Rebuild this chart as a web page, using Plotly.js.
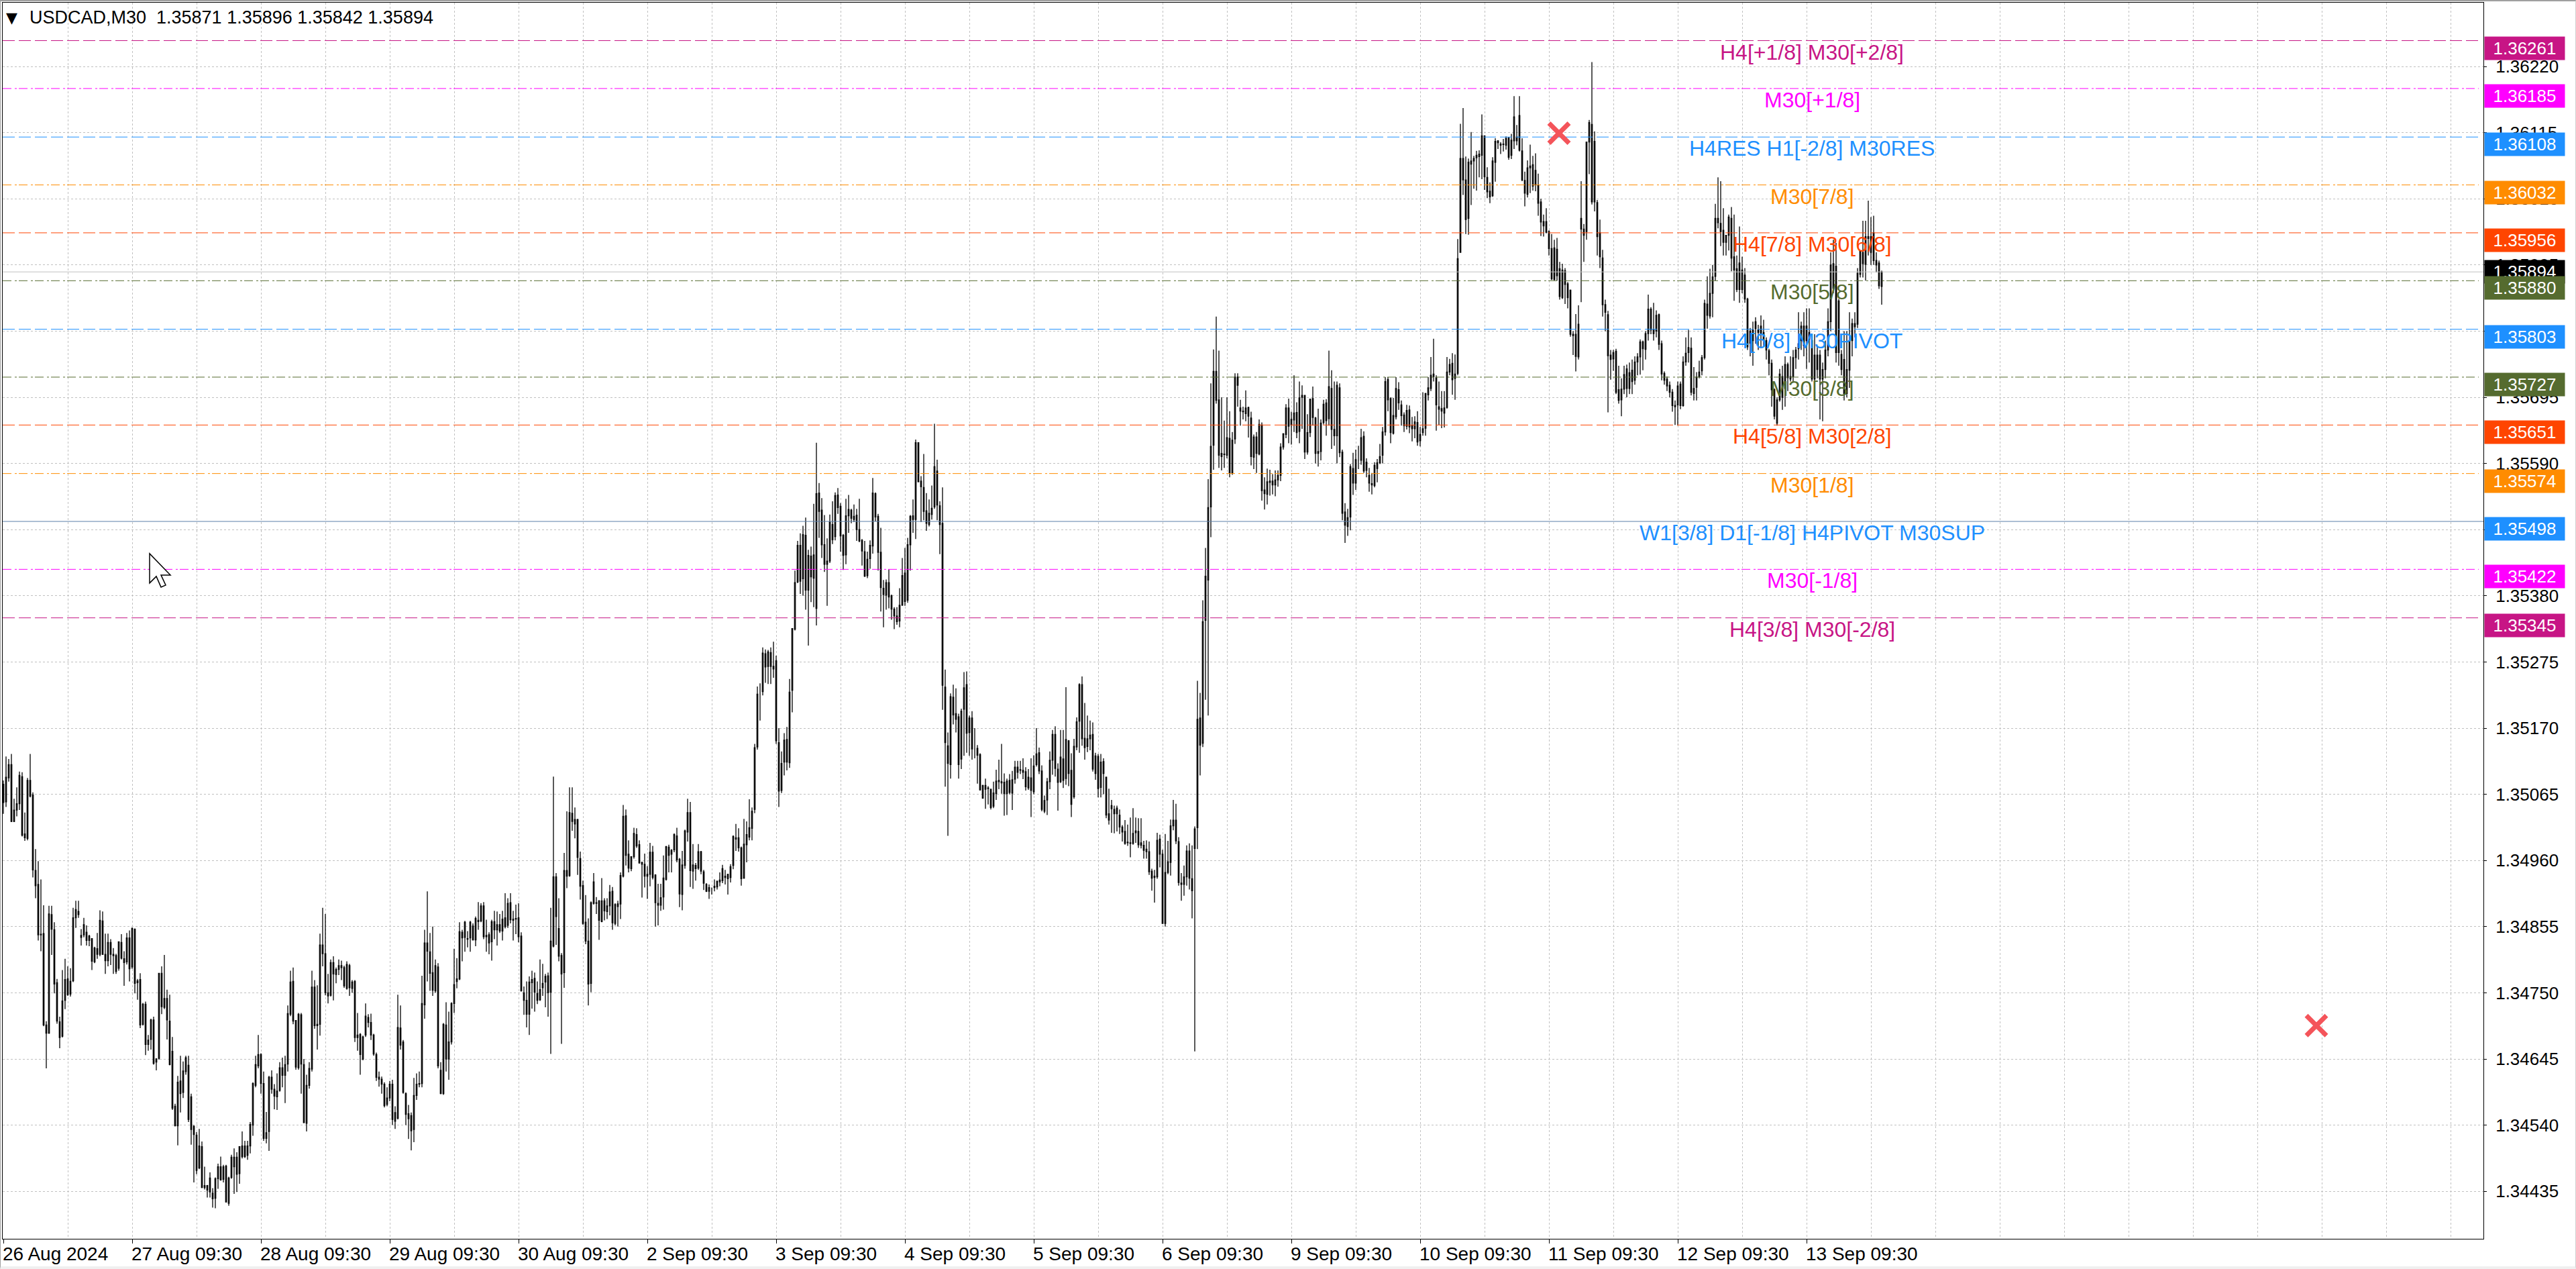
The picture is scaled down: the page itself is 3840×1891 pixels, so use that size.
<!DOCTYPE html>
<html>
<head>
<meta charset="utf-8">
<script src="https://cdn.plot.ly/plotly-3.0.1.min.js"></script>
<style>
html, body { margin: 0; padding: 0; background: #fff; }
#chart { width: 3840px; height: 1891px; }
#frame { position: fixed; left: 0; top: 0; right: 0; bottom: 0; pointer-events: none;
  border-top: 2px solid #a0a0a0; border-left: 1px solid #a0a0a0; border-right: 1px solid #d0d0d0; border-bottom: 4px solid #f0f0f0; }
</style>
</head>
<body>
<div id="chart"></div>
<div id="frame"></div>
<script>
// candles, in points above 1.34000
var basePrice = 1.34;
var opens = [
1081,1053,1091,1112,1022,1040,1050,1093,1002,995,1087,1064,944,922,843,844,699,686,874,850,766,704,681,738,772,748,769,869,879,838,842,846,833,836,799,820,811,864,811,801,830,811,809,789,830,804,799,837,791,851,
766,771,700,732,668,676,707,640,646,781,727,741,705,657,570,539,610,592,625,635,585,538,524,472,506,444,444,456,432,424,455,474,454,475,416,457,474,489,463,507,507,492,507,540,603,634,652,606,519,530,
616,597,585,595,631,619,637,716,768,706,631,715,636,543,603,629,759,698,700,826,812,750,746,798,779,787,793,790,757,793,757,768,679,684,645,683,711,703,683,652,616,613,605,573,583,605,560,551,694,672,
590,558,555,533,587,605,606,731,829,815,782,753,791,627,590,699,645,672,733,768,772,846,838,836,837,856,834,865,864,888,841,842,831,863,850,858,848,869,857,893,867,868,869,840,750,738,716,766,773,749,
739,758,767,777,751,824,934,852,809,782,944,936,1035,1018,1025,963,920,862,832,765,892,893,896,863,896,879,888,911,860,887,891,935,1031,970,947,966,1001,985,957,954,935,938,973,937,892,889,902,930,981,970,
977,999,962,906,952,1005,1036,943,952,948,974,942,922,911,916,917,918,926,928,933,938,933,952,996,996,980,932,985,997,1011,1041,1140,1224,1228,1288,1268,1290,1264,1277,1147,1071,1116,1152,1115,1230,1327,1402,1460,1407,1476,
1389,1443,1408,1360,1543,1516,1461,1430,1435,1493,1474,1540,1522,1476,1445,1507,1516,1501,1508,1485,1468,1450,1412,1439,1459,1542,1506,1449,1392,1381,1401,1380,1359,1348,1340,1365,1416,1373,1461,1507,1501,1623,1562,1552,1515,1493,1509,1521,1578,1523,
1495,1235,1142,1112,1219,1193,1188,1121,1200,1239,1163,1186,1137,1138,1128,1059,1079,1075,1073,1046,1066,1087,1085,1084,1066,1087,1067,1089,1108,1104,1103,1101,1075,1091,1069,1112,1131,1102,1038,1056,1085,1119,1160,1105,1085,1121,1090,1150,1103,1061,
1140,1181,1239,1154,1141,1153,1160,1098,1125,1076,1117,1092,1034,1047,1041,1043,1032,1013,1006,989,988,987,1004,1006,988,984,978,974,943,933,934,994,970,860,941,957,1015,1024,990,924,922,934,975,931,979,1012,1186,1146,1341,1405,
1521,1619,1736,1691,1601,1605,1603,1630,1575,1629,1727,1678,1673,1669,1679,1662,1600,1632,1605,1651,1548,1541,1562,1562,1556,1564,1571,1616,1636,1678,1651,1659,1671,1641,1695,1698,1608,1639,1693,1662,1606,1609,1655,1686,1661,1709,1644,1634,1710,1608,
1513,1490,1505,1582,1559,1595,1595,1633,1579,1559,1558,1555,1582,1591,1603,1640,1723,1693,1638,1664,1707,1683,1667,1649,1675,1650,1645,1655,1626,1639,1646,1699,1709,1732,1726,1680,1677,1670,1679,1735,1749,1725,1733,1925,2074,2040,1979,2070,2070,2075,
2077,2079,2110,2044,2022,2015,2068,2102,2097,2097,2095,2107,2079,2102,2108,2142,2086,2039,2017,2059,2030,2055,2031,2005,1974,1974,1958,1931,1932,1930,1899,1853,1896,1875,1865,1795,1795,1759,1979,1962,1958,2100,2128,2101,2004,1956,1916,1842,1826,1762,
1756,1768,1707,1691,1708,1740,1709,1738,1722,1751,1759,1783,1771,1796,1835,1802,1800,1826,1780,1733,1724,1714,1703,1682,1683,1716,1682,1751,1766,1773,1701,1711,1728,1737,1758,1843,1824,1860,1887,1972,1971,1960,1941,1952,1979,1918,1899,1908,1866,1889,
1851,1781,1785,1815,1802,1808,1785,1785,1769,1749,1707,1654,1691,1728,1709,1747,1728,1728,1758,1772,1785,1777,1808,1798,1785,1724,1762,1762,1724,1739,1770,1815,1868,1903,1848,1763,1755,1701,1738,1785,1812,1811,1890,1925,1906,1950,1925,1956,1912,1908,
1871];
var highs = [
1087,1125,1121,1129,1058,1076,1101,1100,1036,1091,1129,1068,978,959,930,889,705,888,888,862,772,712,786,804,792,789,885,896,896,851,869,857,842,836,823,845,881,879,844,844,835,821,812,831,843,816,845,849,854,852,
772,781,734,736,683,709,712,646,781,792,810,755,747,680,574,618,650,641,650,650,590,540,529,534,514,474,445,465,440,457,479,490,477,477,458,493,503,497,506,530,515,515,545,608,650,683,654,625,561,618,
627,605,622,640,647,650,730,785,790,706,718,718,645,620,640,785,770,762,844,885,875,780,803,808,790,803,801,793,800,796,770,770,718,686,682,733,716,717,685,655,625,617,608,600,610,612,570,747,730,675,
592,572,560,615,622,625,777,850,911,845,855,803,797,640,702,735,720,735,820,805,862,850,864,848,864,860,871,894,892,894,866,846,866,880,879,875,880,908,900,908,880,890,892,846,760,768,776,785,782,768,
803,796,780,782,885,1093,940,900,813,972,1038,1076,1076,1044,1026,974,928,905,868,895,940,902,897,932,900,900,921,918,892,896,941,1048,1041,992,967,1012,1011,992,957,971,951,988,983,938,923,923,968,983,985,978,
1003,1012,964,975,1009,1058,1053,986,956,986,975,945,924,922,917,930,928,941,953,945,939,954,1000,1018,1011,982,1026,1022,1057,1044,1145,1236,1241,1298,1295,1294,1298,1307,1285,1170,1133,1162,1172,1248,1328,1420,1467,1479,1491,1504,
1453,1458,1526,1623,1559,1535,1508,1471,1509,1530,1544,1551,1527,1478,1534,1540,1518,1525,1518,1534,1470,1467,1450,1468,1567,1544,1510,1488,1405,1406,1422,1382,1362,1362,1392,1440,1456,1472,1508,1533,1628,1623,1570,1605,1543,1533,1555,1653,1596,1530,
1552,1263,1163,1225,1239,1233,1193,1201,1259,1260,1190,1197,1170,1143,1130,1080,1090,1078,1074,1085,1104,1120,1145,1098,1090,1097,1102,1118,1118,1118,1122,1108,1105,1122,1127,1170,1139,1111,1063,1091,1133,1167,1173,1114,1167,1167,1235,1151,1130,1153,
1187,1241,1252,1210,1190,1182,1179,1131,1129,1129,1122,1093,1074,1056,1047,1047,1041,1016,1024,1017,1028,1043,1028,1027,1027,991,992,990,947,945,1004,1001,977,1002,991,1025,1056,1050,997,940,952,984,987,984,1014,1245,1226,1373,1456,1565,
1717,1771,1823,1769,1695,1658,1695,1673,1640,1733,1733,1691,1680,1706,1680,1672,1636,1640,1660,1655,1568,1582,1580,1573,1579,1579,1622,1638,1684,1693,1672,1730,1687,1720,1714,1698,1668,1693,1712,1664,1677,1660,1691,1692,1769,1738,1720,1720,1717,1612,
1527,1518,1589,1607,1612,1618,1645,1641,1598,1583,1575,1592,1597,1621,1648,1727,1727,1695,1694,1727,1719,1690,1671,1683,1682,1664,1665,1673,1648,1703,1702,1727,1759,1788,1730,1720,1705,1705,1759,1756,1765,1763,1946,2129,2154,2077,2074,2116,2078,2086,
2087,2144,2110,2060,2036,2076,2106,2103,2100,2105,2109,2108,2113,2173,2127,2173,2106,2053,2071,2096,2078,2082,2050,2010,1985,1995,1960,1954,1945,1948,1910,1907,1900,1878,1866,1800,1827,1841,2038,1970,1960,2135,2227,2117,2008,1977,1929,1850,1832,1770,
1770,1772,1745,1725,1745,1747,1750,1755,1760,1765,1787,1785,1800,1858,1838,1845,1833,1828,1785,1736,1728,1720,1708,1690,1720,1720,1760,1790,1802,1790,1743,1735,1753,1762,1850,1887,1899,1905,2002,2044,2038,1995,1952,1985,1997,1985,1920,1966,1918,1900,
1853,1805,1815,1822,1810,1825,1818,1790,1772,1755,1709,1695,1740,1745,1760,1750,1760,1770,1775,1830,1815,1830,1836,1836,1795,1795,1775,1770,1750,1785,1836,1925,1945,1940,1851,1770,1800,1800,1830,1820,1830,1900,1927,1975,1975,2007,1981,1983,1925,1912,
1896];
var lows = [
1034,1045,1085,1021,1021,1030,1040,998,991,992,1060,933,900,833,816,697,630,685,810,749,701,662,679,724,745,744,767,853,869,825,838,825,824,786,797,804,808,810,780,792,794,780,780,785,803,761,795,768,788,749,
739,694,698,651,658,660,636,627,644,716,724,676,635,564,538,508,560,583,620,545,509,449,462,470,440,438,425,425,409,408,439,452,449,417,412,455,431,434,447,487,488,485,495,523,600,630,590,515,511,499,
590,565,564,593,600,575,625,713,700,628,628,590,543,530,598,625,693,660,682,792,746,733,744,738,765,778,770,758,755,745,750,672,658,620,643,680,695,675,650,610,601,590,568,570,578,540,534,549,660,590,
540,518,500,513,580,600,600,709,768,753,745,750,630,589,588,625,612,668,718,757,770,800,815,822,815,833,824,850,862,835,815,811,801,835,825,845,833,852,853,860,833,843,830,752,715,695,683,725,720,732,
737,745,727,712,653,822,826,800,669,758,916,934,1007,995,937,898,858,827,730,751,890,875,834,862,865,867,873,850,857,855,867,933,952,941,943,963,980,955,901,917,899,919,930,855,857,880,882,928,941,941,
973,957,886,881,947,990,918,915,928,945,938,913,910,899,906,911,914,919,924,922,906,925,946,975,974,920,931,957,992,992,1035,1136,1182,1222,1242,1240,1240,1250,1145,1045,1067,1095,1103,1107,1195,1325,1400,1383,1380,1358,
1301,1370,1362,1333,1472,1440,1418,1364,1432,1462,1468,1510,1450,1421,1430,1480,1495,1497,1467,1465,1428,1410,1408,1423,1447,1498,1420,1355,1330,1358,1360,1342,1327,1334,1330,1364,1364,1369,1420,1480,1470,1560,1497,1500,1483,1490,1501,1518,1500,1446,
1199,1077,999,1090,1176,1163,1090,1105,1126,1131,1126,1120,1122,1082,1071,1058,1042,1049,1041,1043,1056,1073,1066,1031,1032,1065,1040,1082,1090,1097,1089,1071,1072,1029,1065,1109,1097,1038,1035,1032,1073,1096,1093,1039,1083,1075,1080,1078,1029,1058,
1135,1131,1142,1120,1132,1135,1101,1088,1060,1060,1065,1027,1017,1004,1003,1006,1002,990,985,983,965,985,988,980,979,963,963,937,912,893,931,949,860,855,938,936,1008,986,920,896,904,920,914,868,657,978,1095,1140,1215,1190,
1473,1580,1685,1583,1579,1583,1598,1568,1572,1621,1680,1650,1660,1657,1631,1587,1581,1575,1603,1531,1517,1525,1539,1541,1538,1553,1562,1612,1630,1622,1620,1640,1630,1622,1645,1597,1604,1632,1650,1590,1585,1595,1652,1634,1650,1613,1618,1590,1600,1500,
1464,1475,1484,1540,1548,1581,1588,1575,1568,1545,1541,1552,1560,1589,1590,1634,1673,1622,1636,1660,1675,1650,1640,1644,1638,1625,1630,1618,1617,1634,1634,1690,1705,1720,1642,1651,1646,1647,1677,1730,1699,1691,1730,1925,2016,1954,1953,2000,2026,2023,
2044,2041,2024,2011,2003,2013,2037,2089,2081,2085,2088,2072,2073,2089,2095,2085,2038,1998,2012,2019,2023,2022,1983,1951,1950,1955,1920,1881,1880,1880,1850,1851,1843,1836,1791,1762,1736,1755,1846,1910,1945,2049,2001,1990,1920,1900,1823,1800,1671,1723,
1737,1700,1685,1665,1700,1695,1700,1700,1715,1730,1731,1738,1755,1785,1795,1785,1790,1770,1722,1715,1705,1695,1672,1651,1650,1676,1680,1745,1750,1698,1690,1690,1725,1730,1755,1804,1820,1822,1880,1963,1935,1920,1920,1928,1895,1848,1862,1845,1860,1845,
1770,1760,1745,1780,1770,1775,1775,1755,1730,1680,1660,1650,1688,1675,1680,1705,1720,1720,1740,1755,1770,1760,1740,1750,1720,1700,1725,1660,1657,1725,1760,1800,1860,1750,1745,1730,1690,1695,1710,1760,1790,1805,1885,1885,1880,1920,1905,1905,1893,1867,
1842];
var closes = [
1052,1092,1112,1022,1040,1050,1095,1000,996,1087,1062,945,920,842,842,699,686,875,851,764,705,679,737,771,747,768,869,882,874,841,858,833,840,800,821,811,865,811,801,830,811,809,784,831,805,798,837,788,852,765,
769,699,732,668,675,707,638,645,781,728,741,707,636,567,539,608,590,626,647,549,533,525,468,507,441,441,437,434,423,455,474,453,474,418,456,489,489,462,506,490,490,507,541,606,636,652,606,519,528,616,
597,586,594,631,619,636,717,767,705,632,716,637,544,603,630,759,698,700,826,812,750,745,798,780,787,793,790,761,795,758,767,679,683,652,680,713,703,683,653,616,613,605,571,583,605,549,546,695,667,592,
557,550,531,587,605,606,733,829,816,781,754,793,634,590,700,645,672,733,763,772,847,837,862,835,862,834,868,863,888,839,839,829,863,850,858,848,867,855,892,866,865,867,839,753,738,716,767,771,751,738,
755,765,776,750,832,934,871,808,780,944,935,1036,1022,1025,965,919,860,832,764,893,926,892,865,896,880,888,910,861,890,891,936,1030,968,948,966,1003,983,956,954,935,938,973,933,893,889,901,932,982,968,976,
1001,961,907,953,1007,1036,944,953,947,974,943,924,911,917,916,919,927,929,947,935,931,950,998,994,980,931,986,1001,1012,1038,1139,1224,1224,1289,1267,1291,1268,1268,1150,1070,1114,1151,1116,1227,1328,1401,1460,1403,1477,1389,
1444,1410,1445,1542,1514,1461,1430,1435,1497,1469,1539,1520,1475,1444,1507,1517,1503,1506,1485,1467,1451,1411,1438,1460,1543,1505,1449,1393,1382,1401,1378,1359,1348,1339,1365,1412,1371,1461,1506,1501,1623,1561,1553,1514,1495,1511,1519,1585,1524,1493,
1238,1147,1114,1220,1191,1184,1112,1197,1234,1162,1186,1137,1137,1127,1072,1079,1073,1074,1044,1067,1086,1085,1083,1066,1086,1068,1088,1108,1100,1103,1100,1077,1092,1071,1110,1129,1102,1041,1055,1085,1119,1160,1106,1084,1124,1087,1152,1098,1049,1141,
1180,1239,1153,1139,1153,1159,1105,1126,1074,1116,1098,1032,1024,1042,1034,1034,1013,1005,987,988,987,1003,1007,985,984,976,974,942,932,935,992,970,860,941,958,1015,1024,991,925,922,934,975,932,912,1010,1184,1143,1339,1411,1520,
1617,1736,1690,1603,1606,1604,1631,1575,1627,1727,1714,1673,1672,1678,1665,1601,1632,1606,1652,1547,1542,1561,1560,1556,1564,1571,1616,1637,1678,1649,1660,1670,1639,1694,1698,1608,1639,1692,1663,1606,1609,1654,1684,1658,1712,1644,1634,1714,1607,1511,
1492,1504,1585,1559,1596,1595,1631,1578,1592,1571,1556,1587,1591,1601,1640,1720,1691,1639,1666,1709,1686,1666,1650,1674,1648,1645,1656,1624,1636,1645,1701,1710,1730,1728,1683,1676,1673,1678,1735,1747,1723,1732,1915,2074,2040,1977,2068,2065,2074,2079,
2081,2110,2045,2021,2013,2070,2101,2099,2095,2096,2106,2076,2103,2140,2102,2087,2040,2019,2059,2062,2064,2032,2003,1973,1967,1957,1931,1883,1882,1888,1855,1897,1874,1853,1795,1793,1760,1811,1962,1952,2100,2131,2005,2005,1950,1918,1842,1830,1761,1755,
1766,1703,1690,1708,1731,1709,1734,1720,1751,1759,1783,1772,1796,1835,1802,1796,1825,1779,1732,1722,1713,1703,1682,1680,1713,1682,1751,1765,1774,1703,1709,1727,1735,1758,1844,1825,1860,1886,1979,1979,1958,1941,1952,1981,1916,1897,1866,1866,1897,1851,
1775,1800,1802,1804,1798,1796,1798,1770,1749,1707,1665,1691,1732,1695,1747,1726,1724,1758,1770,1780,1808,1808,1785,1787,1724,1762,1739,1724,1739,1770,1815,1905,1907,1766,1766,1739,1701,1739,1785,1812,1807,1892,1927,1907,1950,1947,1950,1912,1905,1872,
1894];

// horizontal levels: price, label, colour, dash
var levelPrices = [1.36261, 1.36185, 1.36108, 1.36032, 1.35956, 1.35880, 1.35803, 1.35727, 1.35651, 1.35574, 1.35498, 1.35422, 1.35345];
var levelLabels = ['H4[+1/8] M30[+2/8]', 'M30[+1/8]', 'H4RES H1[-2/8] M30RES', 'M30[7/8]', 'H4[7/8] M30[6/8]', 'M30[5/8]', 'H4[6/8] M30PIVOT', 'M30[3/8]', 'H4[5/8] M30[2/8]', 'M30[1/8]', 'W1[3/8] D1[-1/8] H4PIVOT M30SUP', 'M30[-1/8]', 'H4[3/8] M30[-2/8]'];
var levelColors = ['#C71585', '#FF00FF', '#1E90FF', '#FF8C00', '#FF4500', '#556B2F', '#1E90FF', '#556B2F', '#FF4500', '#FF8C00', '#1E90FF', '#FF00FF', '#C71585'];
var DASH = '18px,6px', DASHDOT = '13px,5px,3px,3px';
var levelDashes = [DASH, DASHDOT, DASH, DASHDOT, DASH, DASHDOT, DASH, DASHDOT, DASH, DASHDOT, 'solid', DASHDOT, DASH];

var lastPrice = 1.35894;
var crossX = [579.75, 862];
var crossY = [1.36114, 1.34698];

var priceTicks = [1.36220, 1.36115, 1.36010, 1.35905, 1.35800, 1.35695, 1.35590, 1.35485, 1.35380, 1.35275, 1.35170, 1.35065, 1.34960, 1.34855, 1.34750, 1.34645, 1.34540, 1.34435];
var timeTickBars = [0, 48, 96, 144, 192, 240, 288, 336, 384, 432, 480, 528, 576, 624, 672];
var timeTickLabels = ['26 Aug 2024', '27 Aug 09:30', '28 Aug 09:30', '29 Aug 09:30', '30 Aug 09:30', '2 Sep 09:30', '3 Sep 09:30', '4 Sep 09:30', '5 Sep 09:30', '6 Sep 09:30', '9 Sep 09:30', '10 Sep 09:30', '11 Sep 09:30', '12 Sep 09:30', '13 Sep 09:30'];

var FONT = 'Liberation Sans, Arial, sans-serif';
var xRange = [-0.25, 924.25];
var yRange = [1.343596, 1.363212];

function toPrice(v) { return +(basePrice + v / 100000).toFixed(5); }
var bars = opens.map(function (v, i) { return i; });

var data = [];
for (var i = 0; i < levelPrices.length; i++) {
    var solid = levelDashes[i] == 'solid';
    data.push({
        type: 'scatter', mode: 'lines', hoverinfo: 'skip', showlegend: false,
        x: [xRange[0], solid ? xRange[1] : 922.5],
        y: [levelPrices[i], levelPrices[i]],
        line: { color: solid ? '#5a7fa8' : levelColors[i], width: 1, dash: levelDashes[i] }
    });
}
data.push({
    type: 'scatter', mode: 'lines', hoverinfo: 'skip', showlegend: false,
    x: xRange, y: [lastPrice, lastPrice],
    line: { color: '#c0c0c0', width: 1 }
});
data.push({
    type: 'candlestick', showlegend: false, hoverinfo: 'skip',
    x: bars,
    open: opens.map(toPrice), high: highs.map(toPrice), low: lows.map(toPrice), close: closes.map(toPrice),
    whiskerwidth: 0,
    increasing: { line: { color: '#000', width: 1.3 }, fillcolor: '#fff' },
    decreasing: { line: { color: '#000', width: 1.3 }, fillcolor: '#000' }
});
data.push({
    type: 'scatter', mode: 'markers', hoverinfo: 'skip', showlegend: false,
    x: crossX, y: crossY,
    marker: { symbol: 'x-thin', size: 30, line: { color: '#f4545a', width: 7 } }
});

var annotations = [];
// level names in the middle of the right part of the chart
levelPrices.forEach(function (p, i) {
    annotations.push({
        xref: 'x', yref: 'y', x: 674, y: p, yshift: -17, showarrow: false,
        text: levelLabels[i], font: { family: FONT, size: 32, color: levelColors[i] }
    });
});

function priceBox(p, color, shift) {
    annotations.push({
        xref: 'paper', yref: 'y', x: 1, xanchor: 'left', xshift: 1, y: p, yshift: shift,
        yanchor: 'middle', width: 119, height: 34, bgcolor: color, borderpad: 0, showarrow: false,
        text: p.toFixed(5), font: { family: FONT, size: 26, color: '#fff' }
    });
}
priceBox(lastPrice, '#000000', 0);
levelPrices.forEach(function (p, i) { priceBox(p, levelColors[i], -11); });

timeTickBars.forEach(function (b, i) {
    annotations.push({
        xref: 'x', yref: 'paper', x: b, y: 0, xanchor: 'left', yanchor: 'top', yshift: -5, xshift: -3,
        showarrow: false, text: timeTickLabels[i], font: { family: FONT, size: 28, color: '#000' }
    });
});

annotations.push({
    xref: 'paper', yref: 'paper', x: 0, y: 1, xanchor: 'left', yanchor: 'top', xshift: 38, yshift: -5,
    showarrow: false, text: 'USDCAD,M30  1.35871 1.35896 1.35842 1.35894',
    font: { family: FONT, size: 27, color: '#000' }
});
annotations.push({
    xref: 'paper', yref: 'paper', x: 0, y: 1, xanchor: 'left', yanchor: 'top', xshift: 3, yshift: -8,
    showarrow: false, text: '▼', font: { family: 'DejaVu Sans', size: 22, color: '#000' }
});

var layout = {
    width: 3840, height: 1891,
    margin: { l: 4, r: 138, t: 4, b: 45, pad: 0 },
    paper_bgcolor: '#fff', plot_bgcolor: '#fff',
    showlegend: false, dragmode: false, boxgap: 0.5,
    xaxis: {
        range: xRange, rangeslider: { visible: false }, fixedrange: true,
        tickmode: 'array', tickvals: timeTickBars, ticktext: timeTickLabels.map(function () { return ''; }),
        ticks: 'outside', ticklen: 6, tickcolor: '#000', tickwidth: 1,
        showgrid: true, gridcolor: '#c0c0c0', griddash: '3px,3px', gridwidth: 1, zeroline: false,
        minor: { tickmode: 'linear', tick0: 0, dtick: 24, showgrid: true, gridcolor: '#c0c0c0', griddash: '3px,3px', gridwidth: 1, ticks: '' },
        showline: true, linecolor: '#000', linewidth: 1, mirror: true
    },
    yaxis: {
        range: yRange, side: 'right', fixedrange: true,
        tickmode: 'array', tickvals: priceTicks, tickformat: '.5f',
        ticks: 'outside', ticklen: 4, tickcolor: '#000', tickwidth: 1, ticklabelstandoff: 8,
        tickfont: { family: FONT, size: 26, color: '#000' },
        showgrid: true, gridcolor: '#c0c0c0', griddash: '3px,3px', gridwidth: 1, zeroline: false,
        showline: true, linecolor: '#000', linewidth: 1, mirror: true
    },
    annotations: annotations,
    shapes: [{
        // mouse pointer left in the screenshot
        type: 'path', xref: 'x', yref: 'y', xsizemode: 'pixel', ysizemode: 'pixel',
        xanchor: 54.5, yanchor: 1.35447,
        path: 'M0,0 L0,-44 L10,-34 L17,-50 L24,-47 L17,-32 L31,-32 Z',
        fillcolor: '#fff', line: { color: '#000', width: 1.5 }, layer: 'above'
    }]
};

Plotly.newPlot('chart', data, layout, { displayModeBar: false, staticPlot: true });
</script>
</body>
</html>
